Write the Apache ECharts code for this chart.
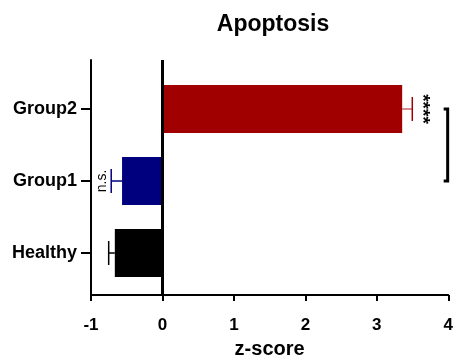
<!DOCTYPE html>
<html>
<head>
<meta charset="utf-8">
<script src="https://cdn.jsdelivr.net/npm/echarts@6/dist/echarts.min.js"></script>
<style>
  html, body { margin: 0; padding: 0; background: #fff; }
  #chart { width: 456px; height: 364px; }
</style>
</head>
<body>
<div id="chart"></div>
<script>
// Apoptosis z-scores per group (mean and one-sided SEM)
const categories = ['Healthy', 'Group1', 'Group2'];
const means = [-0.67, -0.57, 3.31];
const errors = [0.085, 0.15, 0.14];
const barColors = ['#000000', '#00007f', '#a00000'];
const significance = ['', 'n.s.', '****'];
const xTicks = [-1, 0, 1, 2, 3, 4];
// Comparison bracket: between Group1 and Group2
const bracketX = 3.94;
const bracketFrom = 1;
const bracketTo = 2;

const FONT = 'Liberation Sans, Arial, sans-serif';
const chart = echarts.init(document.getElementById('chart'));

const errorData = categories.map((c, i) => [i, means[i], errors[i], i]);

chart.setOption({
  animation: false,
  title: {
    text: 'Apoptosis',
    left: 268, top: 8, textAlign: 'center',
    textStyle: { fontFamily: FONT, fontWeight: 'bold', fontSize: 23, color: '#000' }
  },
  grid: [
    { left: 91, right: 4, top: 73, bottom: 75 },   // bars
    { left: 91, right: 4, top: 60, bottom: 63 }    // axis frame
  ],
  xAxis: [
    { gridIndex: 0, type: 'value', min: xTicks[0], max: xTicks[xTicks.length - 1], show: false },
    {
      gridIndex: 1, type: 'value', min: xTicks[0], max: xTicks[xTicks.length - 1], interval: 1,
      name: 'z-score', nameLocation: 'middle', nameGap: 42,
      nameTextStyle: { fontFamily: FONT, fontWeight: 'bold', fontSize: 20, color: '#000' },
      axisLine: { show: true, onZero: false, lineStyle: { color: '#000', width: 2 } },
      axisTick: { show: true, length: 6, lineStyle: { color: '#000', width: 2 } },
      axisLabel: { fontFamily: FONT, fontWeight: 'bold', fontSize: 17, color: '#000', margin: 22 },
      splitLine: { show: false }
    }
  ],
  yAxis: [
    {
      gridIndex: 0, type: 'category', data: categories,
      axisLine: { show: false, onZero: false },
      axisTick: { show: true, alignWithLabel: true, length: 10, lineStyle: { color: '#000', width: 2 } },
      axisLabel: { fontFamily: FONT, fontWeight: 'bold', fontSize: 18, color: '#000', margin: 14 },
      splitLine: { show: false }
    },
    {
      gridIndex: 1, type: 'value', min: 0, max: 1,
      axisLine: { show: true, onZero: false, lineStyle: { color: '#000', width: 2 } },
      axisTick: { show: false }, axisLabel: { show: false }, splitLine: { show: false }
    }
  ],
  series: [
    {
      type: 'bar', xAxisIndex: 0, yAxisIndex: 0,
      barWidth: 48,
      data: means.map((v, i) => ({ value: v, itemStyle: { color: barColors[i] } }))
    },
    {
      // one-sided error bars with significance labels
      type: 'custom', xAxisIndex: 0, yAxisIndex: 0,
      data: errorData,
      renderItem: function (params, api) {
        const cat = api.value(0), m = api.value(1), e = api.value(2), idx = api.value(3);
        const dir = m >= 0 ? 1 : -1;
        const p0 = api.coord([m, cat]);
        const p1 = api.coord([m + dir * e, cat]);
        const color = barColors[idx];
        const children = [
          { type: 'line', shape: { x1: p0[0], y1: p0[1], x2: p1[0], y2: p1[1] },
            style: { stroke: color, lineWidth: 1.5, opacity: idx === 2 ? 0.6 : 1 } },
          { type: 'line', shape: { x1: p1[0], y1: p1[1] - 12, x2: p1[0], y2: p1[1] + 12 },
            style: { stroke: color, lineWidth: 1.5 } }
        ];
        const label = significance[idx];
        if (label) {
          const isStars = label.indexOf('*') >= 0;
          children.push({
            type: 'text',
            x: p1[0] + dir * (isStars ? 10 : 9), y: p1[1],
            rotation: isStars ? -Math.PI / 2 : Math.PI / 2,
            style: {
              text: label, align: 'center', verticalAlign: 'middle',
              fontFamily: FONT, fontSize: isStars ? 19 : 14,
              fontWeight: isStars ? 'bold' : 'normal', fill: '#000'
            }
          });
        }
        return { type: 'group', children: children };
      }
    },
    {
      // comparison bracket
      type: 'custom', xAxisIndex: 0, yAxisIndex: 0,
      data: [[bracketX, bracketFrom, bracketTo]],
      renderItem: function (params, api) {
        const a = api.coord([api.value(0), api.value(1)]);
        const b = api.coord([api.value(0), api.value(2)]);
        return {
          type: 'polyline',
          shape: { points: [[a[0] - 4, a[1]], [a[0], a[1]], [b[0], b[1]], [b[0] - 4, b[1]]] },
          style: { stroke: '#000', lineWidth: 3, fill: null }
        };
      }
    },
    {
      // vertical zero line across the frame
      type: 'line', xAxisIndex: 1, yAxisIndex: 1, data: [],
      markLine: {
        silent: true, symbol: 'none', label: { show: false },
        lineStyle: { color: '#000', width: 3, type: 'solid' },
        data: [{ xAxis: 0 }]
      }
    }
  ]
});
</script>
</body>
</html>
